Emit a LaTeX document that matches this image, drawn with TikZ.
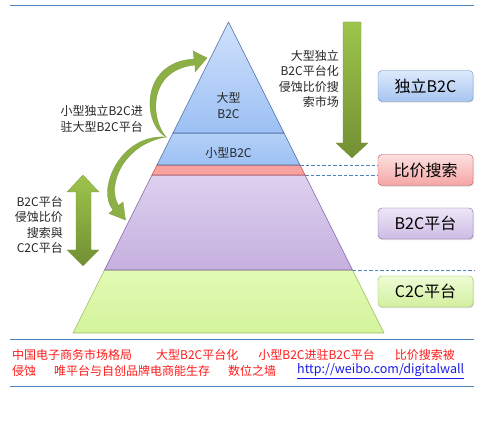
\documentclass[tikz,border=0pt]{standalone}
\usepackage{fontspec}
\setmainfont{Noto Sans CJK SC}
\usetikzlibrary{arrows.meta, positioning, shadows}

\definecolor{ruleblue}{HTML}{4F81BD}
\definecolor{bigtop}{HTML}{D0E1FC}
\definecolor{bigbot}{HTML}{9CC0F4}
\definecolor{smalltop}{HTML}{B4D0F8}
\definecolor{smallbot}{HTML}{9DC1F4}
\definecolor{pyrblue}{HTML}{4A6A9C}
\definecolor{redfill}{HTML}{F7A29F}
\definecolor{rededge}{HTML}{C0504D}
\definecolor{purtop}{HTML}{DDD0EF}
\definecolor{purbot}{HTML}{C6B0DF}
\definecolor{puredge}{HTML}{7F63A1}
\definecolor{grntop}{HTML}{E2FBB4}
\definecolor{grnbot}{HTML}{D3F39C}
\definecolor{grnedge}{HTML}{9BBB59}
\definecolor{tagbluetop}{HTML}{DDEAFC}
\definecolor{tagbluebot}{HTML}{A7C5F0}
\definecolor{tagblueedge}{HTML}{6A8DC8}
\definecolor{tagredtop}{HTML}{FDE1E1}
\definecolor{tagredbot}{HTML}{F4A5A4}
\definecolor{tagpurtop}{HTML}{EEE7F7}
\definecolor{tagpurbot}{HTML}{CDBBE4}
\definecolor{taggrntop}{HTML}{EEFCD6}
\definecolor{taggrnbot}{HTML}{D2EF9F}
\definecolor{arrowtop}{HTML}{9EC44C}
\definecolor{arrowbot}{HTML}{728F33}
\definecolor{swooshfill}{HTML}{8CB046}
\definecolor{arrowedge}{HTML}{7A9A3A}
\definecolor{captionred}{HTML}{FF1A1A}
\definecolor{linkblue}{HTML}{1A1AE6}

\begin{document}
\begin{tikzpicture}[
  x=1pt, y=-1pt,
  tier/.style n args={3}{draw=#1, top color=#2, bottom color=#3, line join=round, line width=0.6pt},
  tag/.style n args={3}{rectangle, rounded corners=4pt, draw=#1, top color=#2, bottom color=#3,
              minimum width=95pt, minimum height=31pt, font=\fontsize{16}{16}\selectfont,
              drop shadow={opacity=0.25, shadow xshift=1pt, shadow yshift=-1.2pt}},
  remark/.style={font=\fontsize{12}{15.3}\selectfont, inner sep=0pt, align=right, text=black!85},
  caption/.style={font=\fontsize{12}{14}\selectfont, inner sep=0pt, text=captionred},
  guide/.style={draw=ruleblue, dash pattern=on 3.5pt off 2pt, line width=0.6pt},
  ruleline/.style={draw=ruleblue, line width=1pt},
  bigarrow/.style={top color=arrowtop, bottom color=arrowbot, draw=arrowedge, line width=0.3pt},
  swoosh/.style={fill=swooshfill, draw=arrowedge, line width=0.3pt}
]
\useasboundingbox (0,0) rectangle (485,430);

\coordinate (apex) at (228.5,22);
\coordinate (l1) at (173,133);   \coordinate (r1) at (284,133);
\coordinate (l2) at (157,165);   \coordinate (r2) at (300,165);
\coordinate (l3) at (152,175);   \coordinate (r3) at (305,175);
\coordinate (l4) at (104.5,270); \coordinate (r4) at (352.5,270);
\coordinate (l5) at (73,333);    \coordinate (r5) at (384,333);

\path[tier={grnedge}{grntop}{grnbot}]     (l4) -- (r4) -- (r5) -- (l5) -- cycle;
\path[tier={puredge}{purtop}{purbot}]     (l3) -- (r3) -- (r4) -- (l4) -- cycle;
\path[tier={rededge}{redfill}{redfill}]   (l2) -- (r2) -- (r3) -- (l3) -- cycle;
\path[tier={pyrblue}{smalltop}{smallbot}] (l1) -- (r1) -- (r2) -- (l2) -- cycle;
\path[tier={pyrblue}{bigtop}{bigbot}]     (apex) -- (r1) -- (l1) -- cycle;

\node[remark, align=center] (big)   at (228.5,105.5) {大型\\B2C};
\node[remark, align=center] (small) at (228.5,153)   {小型B2C};

\node[tag={tagblueedge}{tagbluetop}{tagbluebot}] (indep)    at (425.5,86)    {独立B2C};
\node[tag={rededge}{tagredtop}{tagredbot}]       (price)    at (425.5,170)   {比价搜索};
\node[tag={puredge}{tagpurtop}{tagpurbot}]       (platform) at (425.5,223.5) {B2C平台};
\node[tag={grnedge}{taggrntop}{taggrnbot}]       (c2c)      at (425.5,291.5) {C2C平台};

\coordinate (guideend) at (474,270);
\draw[guide] (r2) -- (r2 -| price.west);
\draw[guide] (r3) -- (r3 -| price.west);
\draw[guide] (r4) -- (guideend);

\path[bigarrow] (343,22) -- (361,22) -- (361,143) -- (368,143) -- (352,158)
                -- (336,143) -- (343,143) -- cycle;
\path[bigarrow] (83,175) -- (99,192) -- (91,192) -- (91,250) -- (99,250) -- (83,266)
                -- (67,250) -- (76,250) -- (76,192) -- (67,192) -- cycle;

\path[swoosh] (166,137) .. controls (142,124) and (140,62) .. (194,59)
              -- (193,51) -- (207,58) -- (195,72) -- (195,65)
              .. controls (148,70) and (150,118) .. (166,137) -- cycle;
\path[swoosh] (166,137) .. controls (120,134) and (96,190) .. (113,210)
              -- (109,213.5) -- (125.5,220) -- (123,202) -- (118.5,205.5)
              .. controls (106,185) and (124,144) .. (166,137) -- cycle;

\node[remark, anchor=east] (erodeprice) at (339,79)  {大型独立\\B2C平台化\\侵蚀比价搜\\索市场};
\node[remark, anchor=east] (settle)     at (143,119) {小型独立B2C进\\驻大型B2C平台};
\node[remark, anchor=east] (erodec2c)   at (63,225)  {B2C平台\\侵蚀比价\\搜索與\\C2C平台};

\coordinate (rule1l) at (10,6);   \coordinate (rule1r) at (474,6);
\coordinate (rule2l) at (10,340); \coordinate (rule2r) at (474,340);
\coordinate (rule3l) at (10,387); \coordinate (rule3r) at (474,387);
\draw[ruleline] (rule1l) -- (rule1r);
\draw[ruleline] (rule2l) -- (rule2r);
\draw[ruleline] (rule3l) -- (rule3r);

\node[caption, anchor=west] (capa) at (12,355)
  {中国电子商务市场格局\hspace{24pt}大型B2C平台化\hspace{20pt}小型B2C进驻B2C平台\hspace{20pt}比价搜索被};
\node[caption, anchor=west] (capb) at (12,371)
  {侵蚀\hspace{18pt}唯平台与自创品牌电商能生存\hspace{18pt}数位之墙};
\node[caption, anchor=west, text=linkblue, font=\fontsize{12.5}{14}\selectfont] (link) at (297,371)
  {\underline{http://weibo.com/digitalwall}};

\end{tikzpicture}
\end{document}
